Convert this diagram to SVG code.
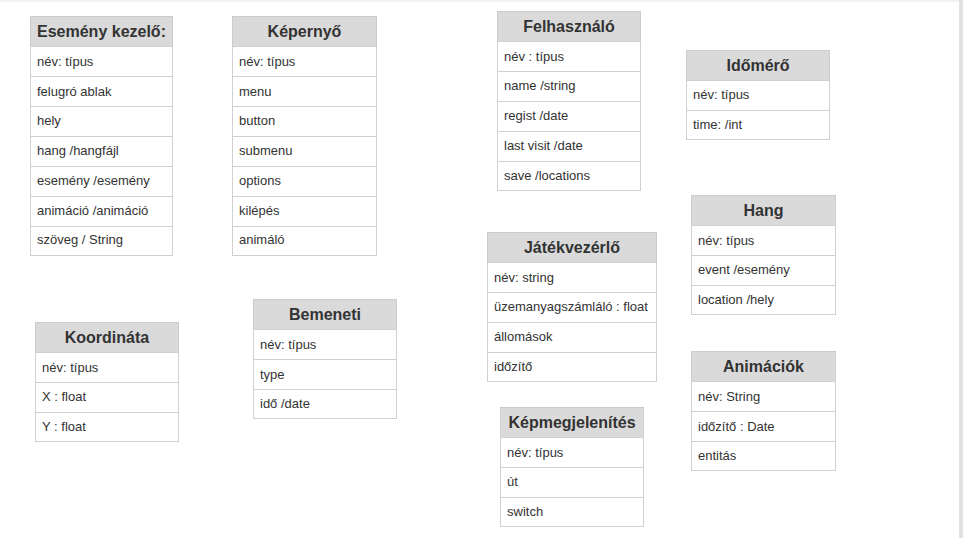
<svg xmlns="http://www.w3.org/2000/svg" width="963" height="538" viewBox="0 0 963 538">
<style>
.bg{fill:#ffffff}
.hd{fill:#dadada;stroke:#cccccc;stroke-width:1}
.rw{fill:#ffffff;stroke:#d0d0d0;stroke-width:1}
.ht{font-family:"Liberation Sans",Arial,sans-serif;font-size:16px;font-weight:bold;fill:#333333;text-anchor:middle}
.t{font-family:"Liberation Sans",Arial,sans-serif;font-size:13px;fill:#333333}
</style>
<rect class="bg" x="0" y="0" width="963" height="538"/>
<rect x="0" y="0" width="963" height="2" fill="#f3f3f3"/>
<rect x="959" y="0" width="4" height="538" fill="#e2e2e4"/>

<g id="esemeny-kezelo">
<rect class="hd" x="30.500" y="16.500" width="142" height="30"/>
<text class="ht" x="101.5" y="37">Esemény kezelő:</text>
<rect class="rw" x="30.500" y="46.500" width="142" height="30"/><text class="t" x="37" y="66">név: típus</text>
<rect class="rw" x="30.500" y="76.500" width="142" height="30"/><text class="t" x="37" y="96">felugró ablak</text>
<rect class="rw" x="30.500" y="106.500" width="142" height="30"/><text class="t" x="37" y="125">hely</text>
<rect class="rw" x="30.500" y="136.500" width="142" height="30"/><text class="t" x="37" y="155">hang /hangfájl</text>
<rect class="rw" x="30.500" y="166.500" width="142" height="30"/><text class="t" x="37" y="185">esemény /esemény</text>
<rect class="rw" x="30.500" y="196.500" width="142" height="30"/><text class="t" x="37" y="215">animáció /animáció</text>
<rect class="rw" x="30.500" y="226.500" width="142" height="29"/><text class="t" x="37" y="244">szöveg / String</text>
</g>

<g id="kepernyo">
<rect class="hd" x="232.500" y="16.500" width="144" height="30"/>
<text class="ht" x="304.5" y="37">Képernyő</text>
<rect class="rw" x="232.500" y="46.500" width="144" height="30"/><text class="t" x="239" y="66">név: típus</text>
<rect class="rw" x="232.500" y="76.500" width="144" height="30"/><text class="t" x="239" y="96">menu</text>
<rect class="rw" x="232.500" y="106.500" width="144" height="30"/><text class="t" x="239" y="125">button</text>
<rect class="rw" x="232.500" y="136.500" width="144" height="30"/><text class="t" x="239" y="155">submenu</text>
<rect class="rw" x="232.500" y="166.500" width="144" height="30"/><text class="t" x="239" y="185">options</text>
<rect class="rw" x="232.500" y="196.500" width="144" height="30"/><text class="t" x="239" y="215">kilépés</text>
<rect class="rw" x="232.500" y="226.500" width="144" height="29"/><text class="t" x="239" y="244">animáló</text>
</g>

<g id="felhasznalo">
<rect class="hd" x="497.500" y="11.500" width="143" height="30"/>
<text class="ht" x="569" y="32">Felhasználó</text>
<rect class="rw" x="497.500" y="41.500" width="143" height="30"/><text class="t" x="504" y="61">név : típus</text>
<rect class="rw" x="497.500" y="71.500" width="143" height="30"/><text class="t" x="504" y="90">name /string</text>
<rect class="rw" x="497.500" y="101.500" width="143" height="30"/><text class="t" x="504" y="120">regist /date</text>
<rect class="rw" x="497.500" y="131.500" width="143" height="30"/><text class="t" x="504" y="150">last visit /date</text>
<rect class="rw" x="497.500" y="161.500" width="143" height="29"/><text class="t" x="504" y="180">save /locations</text>
</g>

<g id="idomero">
<rect class="hd" x="686.500" y="50.500" width="143" height="30"/>
<text class="ht" x="758" y="71">Időmérő</text>
<rect class="rw" x="686.500" y="80.500" width="143" height="30"/><text class="t" x="693" y="99">név: típus</text>
<rect class="rw" x="686.500" y="110.500" width="143" height="29"/><text class="t" x="693" y="129">time: /int</text>
</g>

<g id="hang">
<rect class="hd" x="691.500" y="195.500" width="144" height="30"/>
<text class="ht" x="763.5" y="216">Hang</text>
<rect class="rw" x="691.500" y="225.500" width="144" height="30"/><text class="t" x="698" y="245">név: típus</text>
<rect class="rw" x="691.500" y="255.500" width="144" height="30"/><text class="t" x="698" y="274">event /esemény</text>
<rect class="rw" x="691.500" y="285.500" width="144" height="29"/><text class="t" x="698" y="304">location /hely</text>
</g>

<g id="animaciok">
<rect class="hd" x="691.500" y="351.500" width="144" height="30"/>
<text class="ht" x="763.5" y="372">Animációk</text>
<rect class="rw" x="691.500" y="381.500" width="144" height="30"/><text class="t" x="698" y="401">név: String</text>
<rect class="rw" x="691.500" y="411.500" width="144" height="30"/><text class="t" x="698" y="431">időzítő : Date</text>
<rect class="rw" x="691.500" y="441.500" width="144" height="29"/><text class="t" x="698" y="460">entitás</text>
</g>

<g id="jatekvezerlo">
<rect class="hd" x="487.500" y="232.500" width="169" height="30"/>
<text class="ht" x="572" y="253">Játékvezérlő</text>
<rect class="rw" x="487.500" y="262.500" width="169" height="30"/><text class="t" x="494" y="282">név: string</text>
<rect class="rw" x="487.500" y="292.500" width="169" height="30"/><text class="t" x="494" y="311">üzemanyagszámláló : float</text>
<rect class="rw" x="487.500" y="322.500" width="169" height="30"/><text class="t" x="494" y="341">állomások</text>
<rect class="rw" x="487.500" y="352.500" width="169" height="29"/><text class="t" x="494" y="371">időzítő</text>
</g>

<g id="kepmegjelenites">
<rect class="hd" x="500.500" y="407.500" width="143" height="30"/>
<text class="ht" x="572" y="428">Képmegjelenítés</text>
<rect class="rw" x="500.500" y="437.500" width="143" height="30"/><text class="t" x="507" y="457">név: típus</text>
<rect class="rw" x="500.500" y="467.500" width="143" height="30"/><text class="t" x="507" y="486">út</text>
<rect class="rw" x="500.500" y="497.500" width="143" height="29"/><text class="t" x="507" y="516">switch</text>
</g>

<g id="koordinata">
<rect class="hd" x="35.500" y="322.500" width="143" height="30"/>
<text class="ht" x="107" y="343">Koordináta</text>
<rect class="rw" x="35.500" y="352.500" width="143" height="30"/><text class="t" x="42" y="372">név: típus</text>
<rect class="rw" x="35.500" y="382.500" width="143" height="30"/><text class="t" x="42" y="401">X : float</text>
<rect class="rw" x="35.500" y="412.500" width="143" height="29"/><text class="t" x="42" y="431">Y : float</text>
</g>

<g id="bemeneti">
<rect class="hd" x="253.500" y="299.500" width="143" height="30"/>
<text class="ht" x="325" y="320">Bemeneti</text>
<rect class="rw" x="253.500" y="329.500" width="143" height="30"/><text class="t" x="260" y="349">név: típus</text>
<rect class="rw" x="253.500" y="359.500" width="143" height="30"/><text class="t" x="260" y="379">type</text>
<rect class="rw" x="253.500" y="389.500" width="143" height="29"/><text class="t" x="260" y="408">idő /date</text>
</g>

<g id="connectors"></g>
</svg>
